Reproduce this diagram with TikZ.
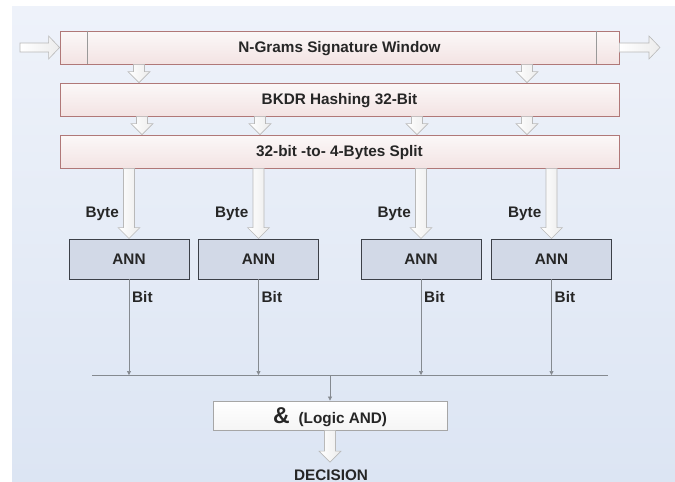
\documentclass[tikz,border=0pt]{standalone}
\usepackage{fontspec}
\setmainfont{Liberation Sans}
\usetikzlibrary{arrows.meta,calc}
\definecolor{bgtop}{HTML}{EEF2FA}
\definecolor{bgbot}{HTML}{DCE5F3}
\definecolor{boxline}{HTML}{B07878}
\definecolor{stagetop}{HTML}{FBF8F8}
\definecolor{stagebot}{HTML}{F3E3E3}
\definecolor{annfill}{HTML}{D2D9E7}
\definecolor{annline}{HTML}{3C4048}
\definecolor{txt}{HTML}{262626}
\definecolor{wiregray}{HTML}{858A90}
\newcommand{\blkdown}[2]{%
  \path[blockarrow] let \p1=(#1), \p2=(#2) in
    (\x1-5.5pt,\y1) -- (\x1+5.5pt,\y1) -- (\x1+5.5pt,\y2+11pt) -- (\x1+11pt,\y2+11pt)
    -- (\x1,\y2) -- (\x1-11pt,\y2+11pt) -- (\x1-5.5pt,\y2+11pt) -- cycle;}
\newcommand{\blkright}[2]{%
  \path[blockarrow] let \p1=(#1), \p2=(#2) in
    (\x1,\y1+4.5pt) -- (\x2-11pt,\y1+4.5pt) -- (\x2-11pt,\y1+11.5pt) -- (\x2,\y1)
    -- (\x2-11pt,\y1-11.5pt) -- (\x2-11pt,\y1-4.5pt) -- (\x1,\y1-4.5pt) -- cycle;}
\begin{document}
\begin{tikzpicture}[x=1pt, y=-1pt,
  every node/.style={font=\fontsize{15.3}{18}\selectfont\bfseries, text=txt, inner sep=0pt, text height=10.9pt, text depth=0pt},
  >={Triangle[length=4pt, width=4pt]},
  stage/.style={draw=boxline, line width=0.8pt, top color=stagetop, bottom color=stagebot, minimum width=559pt, minimum height=33pt},
  ann/.style={draw=annline, line width=0.9pt, fill=annfill, minimum width=120pt, minimum height=40pt},
  andbox/.style={draw=gray!70, line width=0.8pt, top color=white, bottom color=gray!8, minimum width=234pt, minimum height=29pt},
  wire/.style={draw=wiregray, line width=0.6pt},
  blockarrow/.style={draw=gray!55, line width=0.6pt, left color=white, right color=gray!15}]
	\useasboundingbox (0,0) rectangle (675,482);
	\fill[top color=bgtop, bottom color=bgbot] (12,6) rectangle (675,482);
	\node[stage] (win) at (339.5,47.5) {N-Grams Signature Window};
	\draw[gray!80, line width=0.7pt] (87,0 |- win.north) -- (87,0 |- win.south);
	\draw[gray!80, line width=0.7pt] (596,0 |- win.north) -- (596,0 |- win.south);
	\node[stage] (hash) at (339.5,99.5) {BKDR Hashing 32-Bit};
	\node[stage] (split) at (339.5,151.5) {32-bit -to- 4-Bytes Split};
	\coordinate (in) at (20,47.5);
	\coordinate (out) at (660,47.5);
	\blkright{in}{win.west}
	\blkright{win.east}{out}
	\foreach \col in {139,527}
		\blkdown{win.south -| \col,0}{hash.north -| \col,0};
	\foreach \col in {142,260,417,527}
		\blkdown{hash.south -| \col,0}{split.north -| \col,0};
	\coordinate (busW) at (92,375);
	\coordinate (busE) at (608,375);
	\draw[wire] (busW) -- (busE);
	\foreach \i/\col in {1/129,2/258.5,3/421,4/551.5} {
		\node[ann] (ann\i) at (\col,259) {ANN};
		\blkdown{ann\i.north |- split.south}{ann\i.north}
		\node[anchor=east] (byte\i) at ($(ann\i.north)+(-10,-27)$) {Byte};
		\node[anchor=west] (bit\i) at ($(ann\i.south)+(3,18)$) {Bit};
		\draw[wire,->] (ann\i.south) -- (ann\i.south |- busW);
	}
	\node[andbox, text height=15.6pt] (and) at (330,415.5) {{\fontsize{23}{23}\selectfont\&}\hspace{9pt}(Logic AND)};
	\draw[wire,->] (and.north |- busW) -- (and.north);
	\node (dec) at (331,474.8) {DECISION};
	\blkdown{and.south}{[yshift=7pt]dec.north}
\end{tikzpicture}
\end{document}
